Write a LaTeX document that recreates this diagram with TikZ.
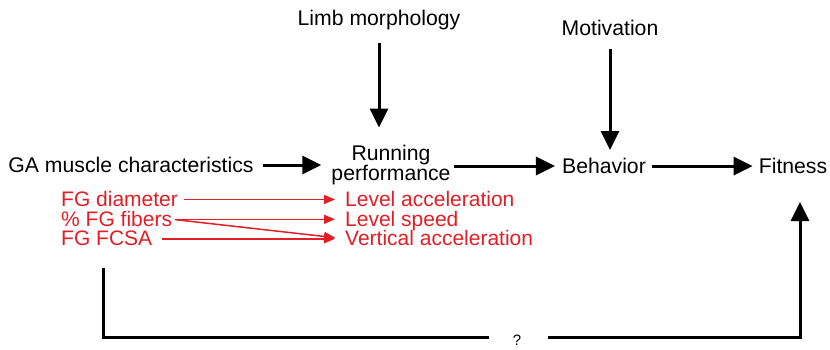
\documentclass[tikz,border=0pt]{standalone}
\usepackage{fontspec}
\setmainfont{Liberation Sans}
\usetikzlibrary{arrows.meta}
\definecolor{figred}{RGB}{227,30,36}
\begin{document}
\begin{tikzpicture}[x=1pt,y=-1pt,
  lbl/.style={inner sep=0pt,font=\fontsize{21.2}{19.5}\selectfont},
  redlbl/.style={inner sep=0pt,anchor=west,text=figred,text height=13.5pt,text depth=0pt,font=\fontsize{21}{19.5}\selectfont},
  bigarrow/.style={line width=3pt,-{Triangle[length=19pt,width=18pt]}},
  redarrow/.style={draw=figred,line width=1.5pt,-{Triangle[length=11pt,width=9pt]},figred},
  thickline/.style={line width=3pt}]
\useasboundingbox (0,0) rectangle (830,349);
% black nodes
\node[lbl] (limb) at (379,20) {Limb morphology};
\node[lbl] (mot) at (610,28) {Motivation};
\node[lbl] (ga) at (131,165) {GA muscle characteristics};
\node[lbl,align=center] (run) at (391,165) {Running\\performance};
\node[lbl] (beh) at (604,166) {Behavior};
\node[lbl] (fit) at (793,166) {Fitness};
% red nodes
\node[redlbl] (fgd) at (61,199.5) {FG diameter};
\node[redlbl] (fgf) at (61,219.3) {\% FG fibers};
\node[redlbl] (fgc) at (61,238.8) {FG FCSA};
\node[redlbl] (lacc) at (345,199.5) {Level acceleration};
\node[redlbl] (lspd) at (345,219.3) {Level speed};
\node[redlbl] (vacc) at (345,238.8) {Vertical acceleration};
\node[inner sep=0pt,font=\fontsize{15}{15}\selectfont] (qm) at (517,340) {?};
% black arrows
\draw[bigarrow,shorten <=13pt,shorten >=17pt] (limb.south) -- (limb.south |- run.north);
\draw[bigarrow,shorten <=13pt,shorten >=8pt] (mot.south) -- (mot.south |- beh.north);
\draw[bigarrow,shorten <=9pt,shorten >=10pt] (ga.east) -- (ga.east -| run.west);
\draw[bigarrow,shorten <=3pt,shorten >=7pt] (beh.west -| run.east) -- (beh.west);
\draw[bigarrow,shorten <=6pt,shorten >=6pt] (beh.east) -- (fit.west);
% red arrows
\draw[redarrow,shorten <=6pt,shorten >=10pt] (fgd.east) -- (lacc.west);
\draw[redarrow,shorten <=3pt,shorten >=10pt] (fgf.east) -- (lspd.west);
\draw[redarrow,shorten <=3pt,shorten >=10pt] (fgf.east) -- (vacc.west);
\draw[redarrow,shorten <=10pt,shorten >=10pt] (fgc.east) -- (vacc.west);
% feedback loop
\coordinate (q0) at (103,268);
\coordinate (q1) at (800,202);
\draw[thickline] (q0) |- ([xshift=-28pt,yshift=3pt]qm.center);
\draw[bigarrow] ([xshift=31pt,yshift=3pt]qm.center) -| (q1);
\end{tikzpicture}
\end{document}
